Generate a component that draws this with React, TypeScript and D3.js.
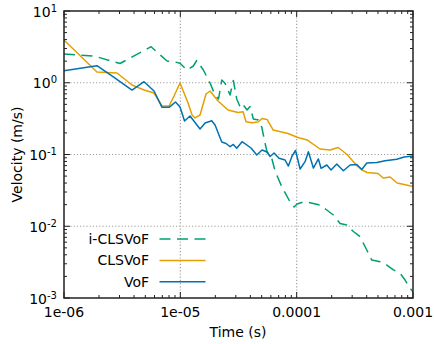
import React from "react";
import * as d3 from "d3";

// i-CLSVoF
const timeI = [1e-6, 1.811e-6, 3.03e-6, 5.6e-6, 7.685e-6, 8.83e-6, 9.94e-6, 1.142e-5, 1.293e-5, 1.384e-5, 1.577e-5, 1.8e-5, 1.988e-5, 2.131e-5, 2.27e-5, 2.423e-5, 2.675e-5, 2.856e-5, 3.054e-5, 3.293e-5, 3.481e-5, 3.746e-5, 3.976e-5, 4.243e-5, 4.686e-5, 5.01e-5, 5.276e-5, 5.566e-5, 6.108e-5, 6.521e-5, 7.445e-5, 9.077e-5, 9.5e-5, 1.008e-4, 1.142e-4, 1.304e-4, 1.589e-4, 1.815e-4, 2.068e-4, 2.362e-4, 2.696e-4, 3.073e-4, 3.509e-4, 4.006e-4, 4.423e-4, 5.213e-4, 5.953e-4, 6.785e-4, 7.745e-4, 8.55e-4, 9.44e-4, 1e-3];
const velI = [2.516, 2.36, 1.855, 3.18, 2.01, 1.965, 1.867, 1.505, 1.712, 2.042, 1.505, 0.992, 0.675, 0.594, 1.092, 0.982, 0.675, 1.075, 0.594, 0.4446, 0.4896, 0.417, 0.4667, 0.3125, 0.3026, 0.2416, 0.1593, 0.1083, 0.0885, 0.0589, 0.0356, 0.01978, 0.01855, 0.02042, 0.02178, 0.02129, 0.01978, 0.01684, 0.01435, 0.01092, 0.01041, 0.00845, 0.00715, 0.00467, 0.00338, 0.0032, 0.00288, 0.00246, 0.00221, 0.00178, 0.001365, 0.00122];

// CLSVoF
const timeC = [1e-6, 1.92e-6, 2.855e-6, 3.843e-6, 4.875e-6, 5.94e-6, 6.96e-6, 8.0e-6, 8.83e-6, 9.94e-6, 1.165e-5, 1.261e-5, 1.338e-5, 1.477e-5, 1.663e-5, 1.8e-5, 2.11e-5, 2.571e-5, 3.134e-5, 3.46e-5, 3.672e-5, 4.135e-5, 4.657e-5, 5.04e-5, 5.566e-5, 6.27e-5, 8.44e-5, 1.008e-4, 1.229e-4, 1.589e-4, 1.937e-4, 2.27e-4, 2.713e-4, 3.306e-4, 3.65e-4, 4.03e-4, 5.01e-4, 5.535e-4, 6.355e-4, 7.3e-4, 8.385e-4, 1e-3];
const velC = [3.94, 1.411, 1.367, 0.93, 0.792, 0.72, 0.474, 0.474, 0.653, 0.992, 0.522, 0.355, 0.323, 0.355, 0.697, 0.767, 0.557, 0.417, 0.385, 0.395, 0.2864, 0.2774, 0.2838, 0.3176, 0.3075, 0.2196, 0.1963, 0.1737, 0.1593, 0.1193, 0.1155, 0.1252, 0.1, 0.0691, 0.0608, 0.0561, 0.0543, 0.047, 0.0486, 0.0401, 0.0382, 0.0358];

// VoF
const timeV = [1e-6, 1.92e-6, 2.692e-6, 3.843e-6, 4.875e-6, 5.94e-6, 6.96e-6, 8.0e-6, 9.09e-6, 9.94e-6, 1.087e-5, 1.212e-5, 1.477e-5, 1.631e-5, 1.862e-5, 1.988e-5, 2.27e-5, 2.472e-5, 2.675e-5, 2.856e-5, 3.054e-5, 3.393e-5, 4.054e-5, 4.539e-5, 5.04e-5, 5.566e-5, 5.905e-5, 6.393e-5, 7.058e-5, 7.95e-5, 8.485e-5, 9.13e-5, 9.78e-5, 1.07e-4, 1.181e-4, 1.261e-4, 1.392e-4, 1.537e-4, 1.621e-4, 1.815e-4, 1.976e-4, 2.212e-4, 2.521e-4, 2.879e-4, 3.287e-4, 3.629e-4, 4.006e-4, 4.884e-4, 5.755e-4, 7.257e-4, 8.385e-4, 1e-3];
const velV = [1.472, 1.728, 1.191, 0.792, 1.034, 0.767, 0.4548, 0.4548, 0.539, 0.459, 0.293, 0.344, 0.2266, 0.2748, 0.2959, 0.2577, 0.1493, 0.1423, 0.1284, 0.1379, 0.122, 0.1508, 0.1232, 0.0985, 0.1155, 0.1083, 0.0938, 0.1049, 0.0885, 0.0838, 0.0691, 0.0953, 0.1137, 0.0628, 0.0794, 0.1094, 0.0648, 0.0866, 0.0642, 0.0714, 0.0608, 0.0737, 0.0594, 0.0714, 0.0725, 0.0618, 0.0761, 0.0773, 0.082, 0.0857, 0.0923, 0.0953];

const xTickValues = [1e-6, 1e-5, 1e-4, 1e-3];
const xTickLabels = ["1e-06", "1e-05", "0.0001", "0.001"];
const yTickValues = [1e1, 1e0, 1e-1, 1e-2, 1e-3];
const yTickExponents = ["1", "0", "-1", "-2", "-3"];
const seriesNames = ["i-CLSVoF", "CLSVoF", "VoF"];

const W = 434, H = 344;
const L = 64, R = 413, T = 11, B = 298;
const FONT = "DejaVu Sans";

export default function App() {
  const x = d3.scaleLog().domain([1e-6, 1e-3]).range([L, R]);
  const y = d3.scaleLog().domain([1e-3, 1e1]).range([B, T]);

  const minorX: number[] = [];
  for (let e = -6; e < -3; e++) for (let m = 2; m <= 9; m++) minorX.push(m * Math.pow(10, e));
  const minorY: number[] = [];
  for (let e = -3; e < 1; e++) for (let m = 2; m <= 9; m++) minorY.push(m * Math.pow(10, e));

  const line = d3.line<[number, number]>().x(d => x(d[0])).y(d => y(d[1]));
  const mk = (t: number[], v: number[]) => line(t.map((tt, i) => [tt, v[i]] as [number, number])) || "";

  const series = [
    { name: seriesNames[0], d: mk(timeI, velI), color: "#009e73", dash: "11,6.5" },
    { name: seriesNames[1], d: mk(timeC, velC), color: "#e69f00", dash: undefined },
    { name: seriesNames[2], d: mk(timeV, velV), color: "#0072b2", dash: undefined },
  ];

  const axisColor = "#222";
  const gridColor = "#a0a0a0";

  return (
    <svg width={W} height={H} style={{ position: "absolute", left: 0, top: 0, background: "#fff" }} fontFamily={FONT}>
      <rect x={0} y={0} width={W} height={H} fill="#fff" />
      {/* grid */}
      {xTickValues.slice(1, -1).map((t, i) => (
        <line key={"gx" + i} x1={x(t)} x2={x(t)} y1={T} y2={B} stroke={gridColor} strokeWidth={1.2} strokeDasharray="1.2,2" />
      ))}
      {yTickValues.slice(1, -1).map((v, i) => (
        <line key={"gy" + i} x1={L} x2={R} y1={y(v)} y2={y(v)} stroke={gridColor} strokeWidth={1.2} strokeDasharray="1.2,2" />
      ))}
      {/* ticks */}
      {xTickValues.map((t, i) => (
        <g key={"xt" + i}>
          <line x1={x(t)} x2={x(t)} y1={B} y2={B - 6} stroke={axisColor} strokeWidth={1} />
          <line x1={x(t)} x2={x(t)} y1={T} y2={T + 6} stroke={axisColor} strokeWidth={1} />
        </g>
      ))}
      {minorX.map((t, i) => (
        <g key={"xm" + i}>
          <line x1={x(t)} x2={x(t)} y1={B} y2={B - 3} stroke={axisColor} strokeWidth={1} />
          <line x1={x(t)} x2={x(t)} y1={T} y2={T + 3} stroke={axisColor} strokeWidth={1} />
        </g>
      ))}
      {yTickValues.map((v, i) => (
        <g key={"yt" + i}>
          <line x1={L} x2={L + 6} y1={y(v)} y2={y(v)} stroke={axisColor} strokeWidth={1} />
          <line x1={R} x2={R - 6} y1={y(v)} y2={y(v)} stroke={axisColor} strokeWidth={1} />
        </g>
      ))}
      {minorY.map((v, i) => (
        <g key={"ym" + i}>
          <line x1={L} x2={L + 3} y1={y(v)} y2={y(v)} stroke={axisColor} strokeWidth={1} />
          <line x1={R} x2={R - 3} y1={y(v)} y2={y(v)} stroke={axisColor} strokeWidth={1} />
        </g>
      ))}
      {/* data */}
      <g clipPath="url(#clip)">
        {series.map((s, i) => (
          <path key={"s" + i} d={s.d} fill="none" stroke={s.color} strokeWidth={1.5} strokeDasharray={s.dash} strokeLinejoin="round" />
        ))}
      </g>
      <defs>
        <clipPath id="clip">
          <rect x={L} y={T} width={R - L} height={B - T} />
        </clipPath>
      </defs>
      {/* frame */}
      <rect x={L} y={T} width={R - L} height={B - T} fill="none" stroke={axisColor} strokeWidth={1.5} />
      {/* tick labels */}
      {xTickValues.map((t, i) => (
        <text key={"xl" + i} x={x(t)} y={317} textAnchor="middle" fontSize={14} fill="#000">{xTickLabels[i]}</text>
      ))}
      {yTickValues.map((v, i) => (
        <text key={"yl" + i} x={57} y={y(v) + 5.5} textAnchor="end" fontSize={14} fill="#000">
          10<tspan dy={-5} fontSize={10}>{yTickExponents[i]}</tspan>
        </text>
      ))}
      {/* axis titles */}
      <text x={238} y={337} textAnchor="middle" fontSize={14} fill="#000">Time (s)</text>
      <text transform={`translate(22,${(T + B) / 2}) rotate(-90)`} textAnchor="middle" fontSize={14} fill="#000">Velocity (m/s)</text>
      {/* legend */}
      {series.map((s, i) => (
        <g key={"lg" + i}>
          <text x={149} y={239 + i * 21.4 + 5} textAnchor="end" fontSize={14} fill="#000">{s.name}</text>
          <line x1={159.5} x2={205.5} y1={239 + i * 21.4} y2={239 + i * 21.4} stroke={s.color} strokeWidth={1.5} strokeDasharray={s.dash} />
        </g>
      ))}
    </svg>
  );
}
